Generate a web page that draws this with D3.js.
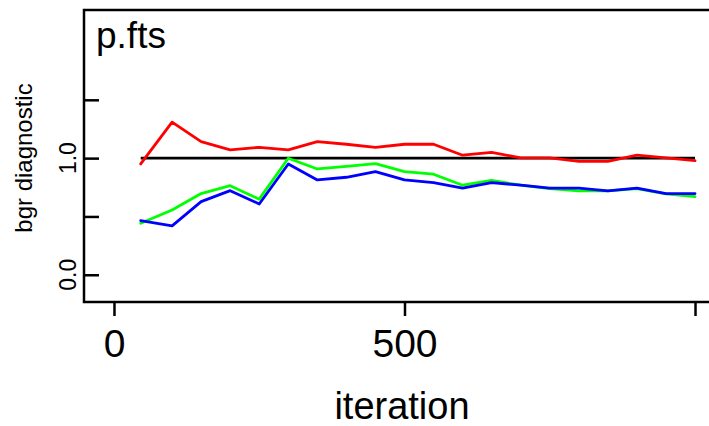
<!DOCTYPE html>
<html><head><meta charset="utf-8">
<script src="https://cdn.jsdelivr.net/npm/d3@7/dist/d3.min.js"></script>
<style>
body{margin:0;background:#fff}
svg{display:block}
text{font-family:"Liberation Sans",Arial,Helvetica,sans-serif;fill:#000}
</style>
</head><body>
<svg id="chart" width="709" height="426"></svg>
<script>
const title = "p.fts";
const xLabel = "iteration";
const yLabel = "bgr diagnostic";
const iterations = [46,100,150,200,250,300,350,400,450,500,550,600,650,700,750,800,850,900,950,1000];
const redValues = [0.950,1.308,1.142,1.070,1.093,1.070,1.142,1.119,1.093,1.119,1.119,1.025,1.049,1.002,1.002,0.973,0.973,1.025,1.002,0.979];
const greenValues = [0.442,0.556,0.696,0.764,0.648,0.999,0.907,0.929,0.953,0.884,0.862,0.768,0.810,0.768,0.738,0.719,0.719,0.738,0.693,0.670];
const blueValues = [0.464,0.419,0.627,0.721,0.607,0.950,0.813,0.836,0.884,0.813,0.790,0.742,0.790,0.768,0.742,0.742,0.719,0.742,0.696,0.696];
const referenceValue = 1;
const xTicks = [0,500,1000];
const xTickLabels = ["0","500",""];
const yTicks = [0,0.5,1,1.5];
const yTickLabels = ["0.0","","1.0",""];

(function(){
const svg = d3.select("#chart");
const pl = 84, pr = 725, pt = 10, pb = 302;
const x = d3.scaleLinear().domain([-51.6, 1051.6]).range([pl, pr]);
const y = d3.scaleLinear().domain([-0.2335, 2.27]).range([pb, pt]);

// reference line
svg.append("line")
  .attr("x1", x(iterations[0])).attr("x2", x(iterations[iterations.length-1]))
  .attr("y1", y(referenceValue)).attr("y2", y(referenceValue))
  .attr("stroke", "#000").attr("stroke-width", 2.6);

const line = d3.line().x((d,i)=>x(iterations[i])).y(d=>y(d));
[[redValues,"#ff0000"],[greenValues,"#00ff00"],[blueValues,"#0000ff"]].forEach(([vals,col])=>{
  svg.append("path").datum(vals)
    .attr("d", line).attr("fill","none").attr("stroke",col)
    .attr("stroke-width",2.8).attr("stroke-linejoin","round").attr("stroke-linecap","round");
});

// frame
svg.append("rect").attr("x",pl).attr("y",pt).attr("width",pr-pl).attr("height",pb-pt)
  .attr("fill","none").attr("stroke","#000").attr("stroke-width",2.5);

// x axis
const xAxis = svg.append("g").attr("transform",`translate(0,${pb})`)
  .call(d3.axisBottom(x).tickValues(xTicks).tickSize(14).tickPadding(13)
    .tickFormat((d,i)=>xTickLabels[i]));
xAxis.select(".domain").remove();
xAxis.selectAll(".tick line").attr("stroke","#000").attr("stroke-width",2.5);
xAxis.selectAll(".tick text").attr("font-size",39).attr("font-family",'"Liberation Sans",Arial,sans-serif').attr("fill","#000");

// y axis (ticks inside)
const yAxis = svg.append("g").attr("transform",`translate(${pl+1},0)`)
  .call(d3.axisLeft(y).tickValues(yTicks).tickSize(-14).tickFormat(""));
yAxis.select(".domain").remove();
yAxis.selectAll(".tick line").attr("stroke","#000").attr("stroke-width",2.5);
svg.append("g").selectAll("text").data(yTicks).join("text")
  .attr("transform",d=>`translate(75.5,${y(d)}) rotate(-90)`)
  .attr("text-anchor","middle").attr("font-size",23)
  .text((d,i)=>yTickLabels[i]);

// labels
svg.append("text").attr("x",96).attr("y",48).attr("font-size",37).text(title);
svg.append("text").attr("x",402).attr("y",419).attr("text-anchor","middle").attr("font-size",38).text(xLabel);
svg.append("text").attr("transform","translate(32,158) rotate(-90)").attr("text-anchor","middle").attr("font-size",24).text(yLabel);
})();
</script>
</body></html>
